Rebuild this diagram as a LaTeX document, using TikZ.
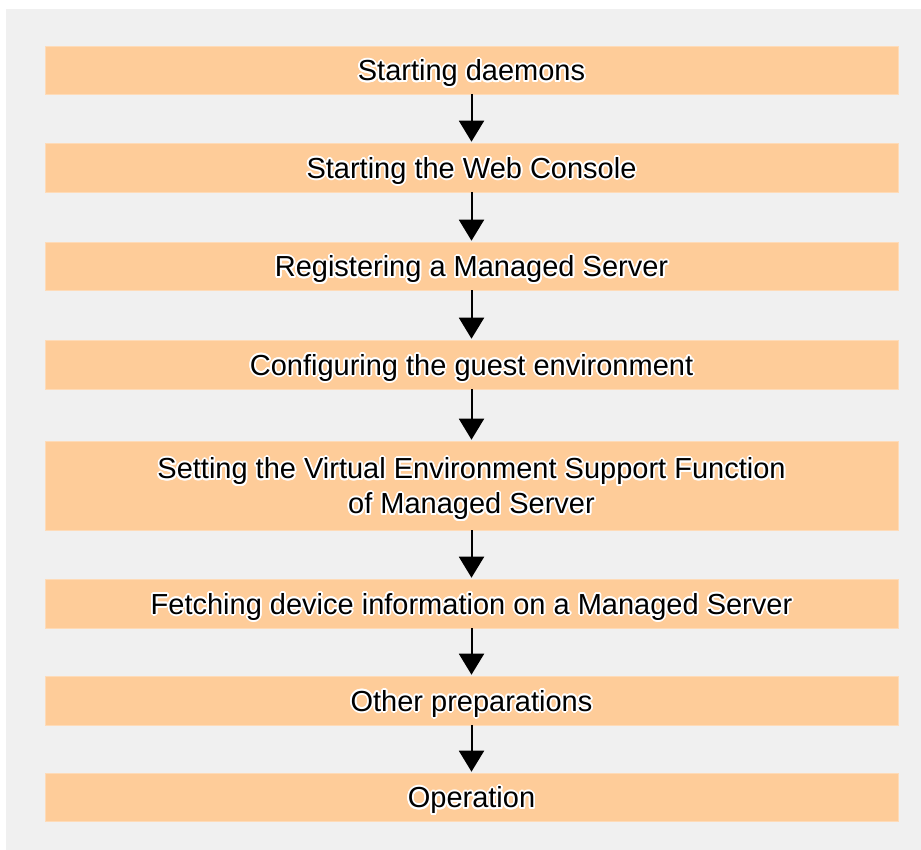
\documentclass[tikz,border=0pt]{standalone}
\usepackage{fontspec}
\setmainfont{Liberation Sans}
\usepackage{contour}
\contourlength{1.8pt}
\usetikzlibrary{arrows.meta}
\definecolor{panel}{HTML}{F0F0F0}
\definecolor{peach}{HTML}{FECC99}
\tikzset{
  x=1pt, y=-1pt,
  stepbox/.style={fill=peach, draw=peach!70!white, line width=0.6pt, minimum width=853pt, inner sep=0pt, align=center, font=\fontsize{29}{35}\selectfont, text=black},
  flow/.style={line width=2pt, -{Triangle[width=25pt,length=21pt]}, shorten >=1pt}
}
\newcommand{\halo}[1]{\contour{white}{#1}}
\newcommand{\lbl}[1]{\raisebox{-10pt}[0pt][0pt]{\begin{tabular}{@{}c@{}}#1\end{tabular}}}
\begin{document}
\begin{tikzpicture}
\useasboundingbox (0,0) rectangle (921,850);
\fill[white] (0,0) rectangle (921,850);
\fill[panel] (6,9) rectangle (921,850);
\node[stepbox, minimum height=48pt] (s1) at (471.5,70) {\lbl{\halo{Starting daemons}}};
\node[stepbox, minimum height=49pt] (s2) at (471.5,167.5) {\lbl{\halo{Starting the Web Console}}};
\node[stepbox, minimum height=48pt] (s3) at (471.5,266) {\lbl{\halo{Registering a Managed Server}}};
\node[stepbox, minimum height=49pt] (s4) at (471.5,364.5) {\lbl{\halo{Configuring the guest environment}}};
\node[stepbox, minimum height=89pt] (s5) at (471.5,485.5) {\lbl{\halo{Setting the Virtual Environment Support Function}\\\halo{of Managed Server}}};
\node[stepbox, minimum height=49pt] (s6) at (471.5,603.5) {\lbl{\halo{Fetching device information on a Managed Server}}};
\node[stepbox, minimum height=49pt] (s7) at (471.5,700.5) {\lbl{\halo{Other preparations}}};
\node[stepbox, minimum height=48pt] (s8) at (471.5,797) {\lbl{\halo{Operation}}};
\foreach \a/\b in {s1/s2,s2/s3,s3/s4,s4/s5,s5/s6,s6/s7,s7/s8}
  \draw[flow] (\a.south) -- (\b.north);
\end{tikzpicture}
\end{document}
